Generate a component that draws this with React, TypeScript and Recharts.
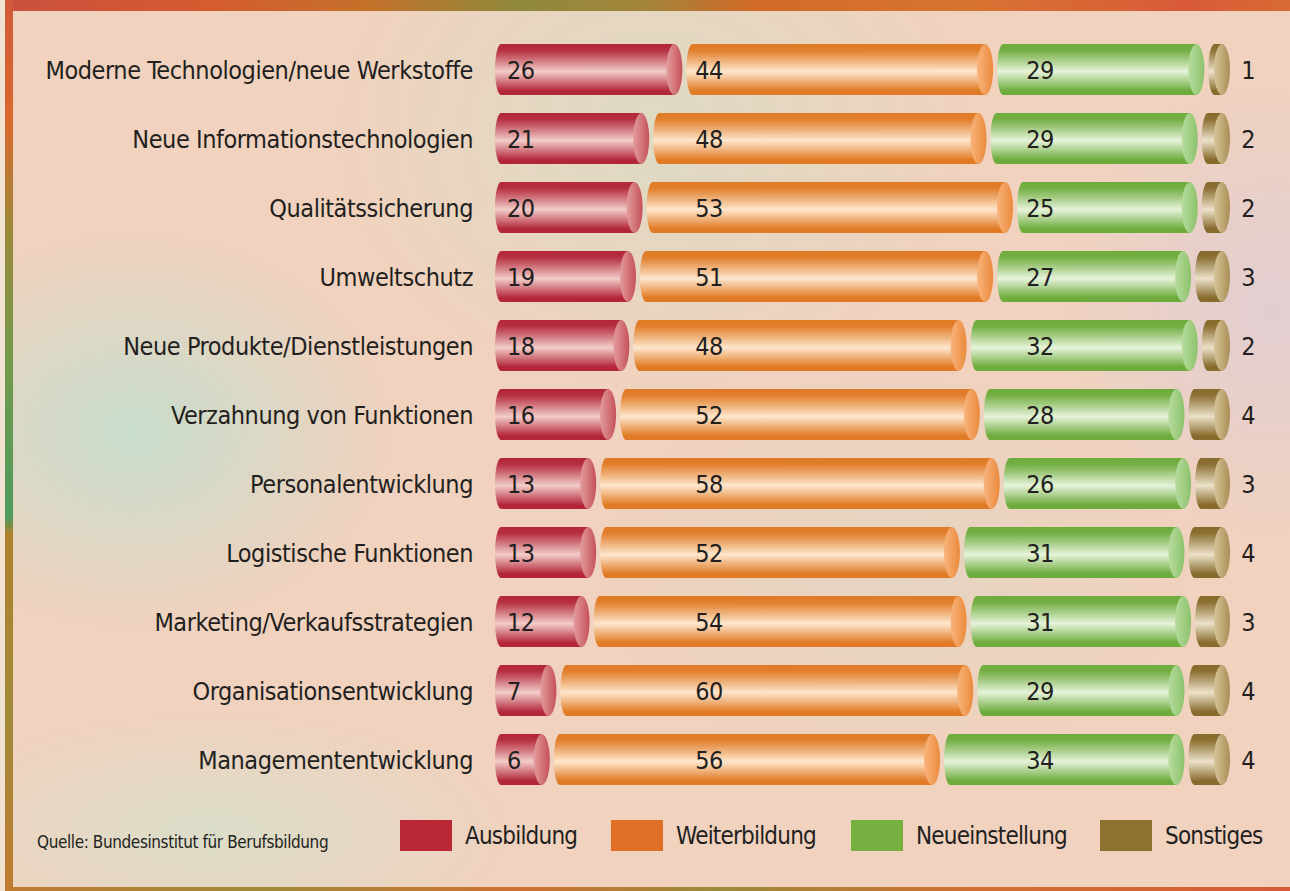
import React from 'react';
import { BarChart, Bar, XAxis, YAxis, LabelList } from 'recharts';

const categories = [
  'Moderne Technologien/neue Werkstoffe',
  'Neue Informationstechnologien',
  'Qualitätssicherung',
  'Umweltschutz',
  'Neue Produkte/Dienstleistungen',
  'Verzahnung von Funktionen',
  'Personalentwicklung',
  'Logistische Funktionen',
  'Marketing/Verkaufsstrategien',
  'Organisationsentwicklung',
  'Managemententwicklung',
];
const ausbildung = [26, 21, 20, 19, 18, 16, 13, 13, 12, 7, 6];
const weiterbildung = [44, 48, 53, 51, 48, 52, 58, 52, 54, 60, 56];
const neueinstellung = [29, 29, 25, 27, 32, 28, 26, 31, 31, 29, 34];
const sonstiges = [1, 2, 2, 3, 2, 4, 3, 4, 3, 4, 4];

const seriesKeys = ['ausbildung', 'weiterbildung', 'neueinstellung', 'sonstiges'];
const seriesNames = ['Ausbildung', 'Weiterbildung', 'Neueinstellung', 'Sonstiges'];

const data = categories.map((name, i) => ({
  name,
  ausbildung: ausbildung[i],
  weiterbildung: weiterbildung[i],
  neueinstellung: neueinstellung[i],
  sonstiges: sonstiges[i],
}));

// look of each cylinder: edge colour, highlight, cap face light/dark, legend swatch
const STYLE = [
  { edge: '#b3263a', light: '#f2ccc8', capA: '#e29c9c', capB: '#c5505a', swatch: '#ba2737' },
  { edge: '#e07a24', light: '#fee6cc', capA: '#f9b47c', capB: '#ea8a3c', swatch: '#e06f28' },
  { edge: '#6dac3c', light: '#e6f3da', capA: '#b8dc9e', capB: '#8cc26c', swatch: '#76b041' },
  { edge: '#876b2c', light: '#ece2ca', capA: '#d6c49a', capB: '#a98e55', swatch: '#8c7130' },
];

const CAP = 15;
const GAP = 4;
const LABEL_X = [507, 709, 1040, 1248];
const FONT = '"Liberation Sans Narrow", "DejaVu Sans Condensed", "Roboto", sans-serif';
const TEXT = '#231f20';

function cylinder(idx: number) {
  return (props: any) => {
    const { x, y, width, height } = props;
    const x0 = x + idx * (CAP + GAP);
    const w = width + CAP;
    const ry = height / 2;
    const rl = 6;
    const rr = 8;
    const cx = x0 + w - rr;
    const d = `M${x0 + rl},${y} L${cx},${y} L${cx},${y + height} L${x0 + rl},${y + height} A${rl},${ry} 0 0 1 ${x0 + rl},${y} Z`;
    return (
      <g>
        <path d={d} fill={`url(#body${idx})`} />
        <ellipse cx={cx} cy={y + ry} rx={rr} ry={ry} fill={`url(#cap${idx})`} />
      </g>
    );
  };
}

function valueLabel(idx: number) {
  return (p: any) => (
    <text
      x={LABEL_X[idx]}
      y={p.y + p.height / 2}
      dy="0.36em"
      textAnchor={idx === 0 ? 'start' : 'middle'}
      fill={TEXT}
      fontSize={25}
      fontFamily={FONT}
      style={{ letterSpacing: -0.6 }}
    >
      {p.value}
    </text>
  );
}

function CategoryTick({ x, y, payload }: any) {
  return (
    <text
      x={x}
      y={y}
      dy="0.36em"
      textAnchor="end"
      fill={TEXT}
      fontSize={25}
      fontFamily={FONT}
      style={{ letterSpacing: -0.45 }}
    >
      {payload.value}
    </text>
  );
}

const legendLeft = [400, 611, 851, 1100];

export default function App() {
  return (
    <div
      style={{
        position: 'relative',
        width: 1290,
        height: 891,
        overflow: 'hidden',
        background: '#f1e2d2',
        fontFamily: FONT,
      }}
    >
      <style>{'body{margin:0}'}</style>
      {/* frame strips */}
      <div
        style={{
          position: 'absolute', left: 5, top: 0, width: 1285, height: 11,
          background: 'linear-gradient(90deg,#c9503f 0%,#d65a30 15%,#c4702a 28%,#8f8a3c 40%,#a3843a 50%,#d06a28 58%,#d87432 75%,#d85a38 92%,#d86a34 100%)',
        }}
      />
      <div
        style={{
          position: 'absolute', left: 5, top: 0, width: 8, height: 891,
          background: 'linear-gradient(180deg,#d05a38 0%,#d86a2e 14%,#9a8a3a 26%,#749a4a 40%,#4d9a5e 58%,#b0802e 60%,#a08a38 80%,#c07a30 100%)',
        }}
      />
      <div
        style={{
          position: 'absolute', left: 5, top: 887, width: 1285, height: 4,
          background: 'linear-gradient(90deg,#c07a30 0%,#a08a38 20%,#d07030 40%,#9a8a3a 55%,#d07030 75%,#d85a38 100%)',
        }}
      />
      {/* panel */}
      <div
        style={{
          position: 'absolute', left: 13, top: 11, width: 1277, height: 876,
          background:
            'radial-gradient(ellipse 260px 200px at 120px 420px, rgba(196,222,206,0.9), rgba(196,222,206,0) 100%),' +
            'radial-gradient(ellipse 320px 260px at 640px 120px, rgba(218,220,196,0.85), rgba(218,220,196,0) 100%),' +
            'radial-gradient(ellipse 300px 120px at 200px 820px, rgba(214,224,204,0.8), rgba(214,224,204,0) 100%),' +
            'radial-gradient(ellipse 220px 240px at 1260px 300px, rgba(222,204,214,0.8), rgba(222,204,214,0) 100%),' +
            'radial-gradient(ellipse 300px 200px at 880px 560px, rgba(222,214,196,0.6), rgba(222,214,196,0) 100%),' +
            '#f0d2be',
        }}
      />

      <div style={{ position: 'absolute', left: 0, top: 0 }}>
        <BarChart
          width={1290}
          height={794}
          data={data}
          layout="vertical"
          margin={{ top: 35, right: 132, bottom: 0, left: 0 }}
          barSize={51}
        >
          <defs>
            {STYLE.map((s, i) => (
              <linearGradient key={`b${i}`} id={`body${i}`} x1="0" y1="0" x2="0" y2="1">
                <stop offset="0%" stopColor={s.edge} />
                <stop offset="12%" stopColor={s.edge} stopOpacity={0.95} />
                <stop offset="54%" stopColor={s.light} />
                <stop offset="92%" stopColor={s.edge} />
                <stop offset="100%" stopColor={s.edge} />
              </linearGradient>
            ))}
            {STYLE.map((s, i) => (
              <linearGradient key={`c${i}`} id={`cap${i}`} x1="0" y1="0" x2="1" y2="0">
                <stop offset="0%" stopColor={s.capA} />
                <stop offset="100%" stopColor={s.capB} />
              </linearGradient>
            ))}
          </defs>
          <XAxis type="number" domain={[0, 100]} hide />
          <YAxis
            type="category"
            dataKey="name"
            width={495}
            axisLine={false}
            tickLine={false}
            tickMargin={16}
            interval={0}
            tick={<CategoryTick />}
          />
          {seriesKeys.map((k, i) => (
            <Bar
              key={k}
              dataKey={k}
              name={seriesNames[i]}
              stackId="a"
              fill={STYLE[i].swatch}
              shape={cylinder(i)}
              isAnimationActive={false}
            >
              <LabelList dataKey={k} content={valueLabel(i)} />
            </Bar>
          ))}
        </BarChart>
      </div>

      {/* source + legend */}
      <div
        style={{
          position: 'absolute', left: 37, top: 832, fontSize: 17, color: TEXT, whiteSpace: 'nowrap', letterSpacing: -0.4,
        }}
      >
        Quelle: Bundesinstitut für Berufsbildung
      </div>
      {seriesNames.map((n, i) => (
        <div key={n} style={{ position: 'absolute', left: legendLeft[i], top: 820, height: 31, display: 'flex', alignItems: 'center' }}>
          <div style={{ width: 52, height: 31, background: STYLE[i].swatch }} />
          <span style={{ marginLeft: 13, fontSize: 24, color: TEXT, whiteSpace: 'nowrap', letterSpacing: -0.8 }}>{n}</span>
        </div>
      ))}
    </div>
  );
}
